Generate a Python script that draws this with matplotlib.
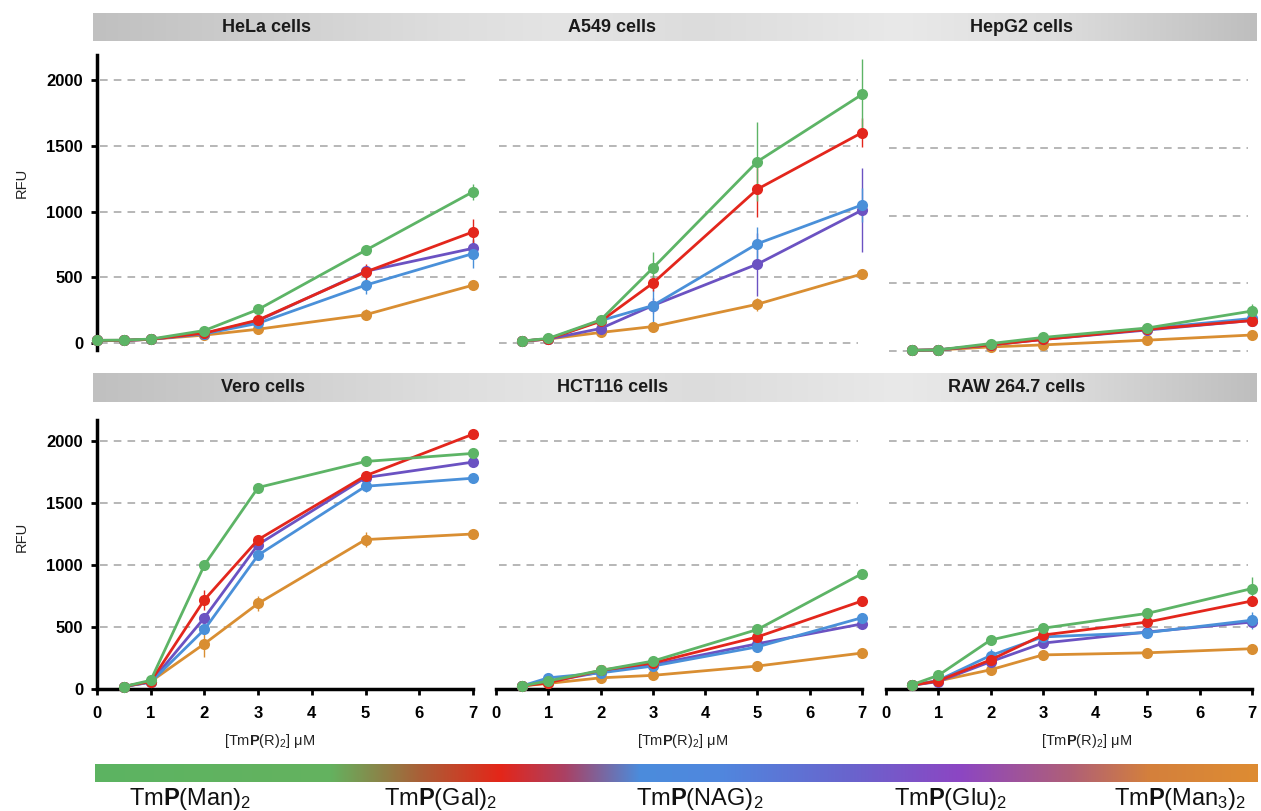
import numpy as np
import matplotlib
matplotlib.use("Agg")
import matplotlib.pyplot as plt

plt.rcParams['font.family'] = ['Liberation Sans', 'DejaVu Sans']
plt.rcParams['mathtext.fontset'] = 'custom'
plt.rcParams['mathtext.rm'] = 'Liberation Sans'
plt.rcParams['mathtext.bf'] = 'Liberation Sans:bold'
plt.rcParams['mathtext.it'] = 'Liberation Sans:italic'

# ---------------- data ----------------
SERIES = ['Man', 'Gal', 'NAG', 'Glu', 'Man3']
LEGEND_LABELS = [r'Tm$\mathbf{P}$(Man)$_2$', r'Tm$\mathbf{P}$(Gal)$_2$', r'Tm$\mathbf{P}$(NAG)$_2$',
                 r'Tm$\mathbf{P}$(Glu)$_2$', r'Tm$\mathbf{P}$(Man$_3$)$_2$']
COLORS = {'Man': '#5DB466', 'Gal': '#E3261C', 'NAG': '#4A90D9', 'Glu': '#6B52C2', 'Man3': '#D98E32'}
PANELS = ['HeLa cells', 'A549 cells', 'HepG2 cells', 'Vero cells', 'HCT116 cells', 'RAW 264.7 cells']

hela_x = [0, 0.5, 1, 2, 3, 5, 7]
hela_y = {'Man': [20, 22, 30, 95, 255, 705, 1150], 'Gal': [20, 20, 28, 75, 175, 540, 845],
          'NAG': [20, 20, 28, 70, 150, 440, 680], 'Glu': [20, 20, 28, 72, 170, 545, 720],
          'Man3': [20, 20, 28, 60, 105, 215, 440]}
hela_e = {'Man': [0, 0, 0, 10, 20, 15, 60], 'Gal': [0, 0, 0, 10, 20, 60, 100],
          'NAG': [0, 0, 0, 10, 15, 70, 110], 'Glu': [0, 0, 0, 10, 20, 50, 60],
          'Man3': [0, 0, 0, 5, 10, 40, 30]}

a549_x = [0.5, 1, 2, 3, 5, 7]
a549_y = {'Man': [15, 35, 175, 570, 1380, 1890], 'Gal': [15, 30, 165, 455, 1170, 1600],
          'NAG': [15, 30, 170, 285, 755, 1050], 'Glu': [15, 30, 110, 285, 600, 1010],
          'Man3': [15, 30, 80, 125, 295, 525]}
a549_e = {'Man': [0, 0, 20, 120, 300, 270], 'Gal': [0, 0, 20, 60, 215, 110],
          'NAG': [0, 0, 20, 140, 130, 130], 'Glu': [0, 0, 15, 60, 240, 320],
          'Man3': [0, 0, 10, 20, 50, 40]}

hepg2_x = [0.5, 1, 2, 3, 5, 7]
hepg2_y = {'Man': [5, 8, 55, 100, 170, 295], 'Gal': [5, 8, 45, 85, 160, 225],
           'NAG': [5, 8, 45, 90, 165, 240], 'Glu': [5, 8, 45, 85, 155, 225],
           'Man3': [5, 8, 30, 45, 80, 118]}
hepg2_e = {'Man': [0, 0, 10, 10, 15, 50], 'Gal': [0, 0, 5, 10, 15, 20],
           'NAG': [0, 0, 5, 10, 15, 20], 'Glu': [0, 0, 5, 10, 15, 20],
           'Man3': [0, 0, 5, 5, 10, 15]}

vero_x = [0.5, 1, 2, 3, 5, 7]
vero_y = {'Man': [20, 70, 1000, 1625, 1835, 1900], 'Gal': [20, 60, 720, 1205, 1720, 2055],
          'NAG': [20, 55, 480, 1080, 1635, 1700], 'Glu': [20, 55, 575, 1165, 1705, 1830],
          'Man3': [20, 60, 365, 690, 1205, 1250]}
vero_e = {'Man': [0, 10, 40, 40, 30, 40], 'Gal': [0, 10, 80, 30, 40, 20],
          'NAG': [0, 10, 40, 30, 50, 20], 'Glu': [0, 10, 40, 30, 30, 20],
          'Man3': [0, 10, 110, 60, 60, 20]}

hct_x = [0.5, 1, 2, 3, 5, 7]
hct_y = {'Man': [25, 65, 150, 225, 480, 930], 'Gal': [25, 50, 150, 210, 420, 710],
         'NAG': [25, 90, 130, 185, 340, 575], 'Glu': [25, 60, 135, 195, 365, 525],
         'Man3': [25, 45, 90, 110, 185, 290]}
hct_e = {'Man': [0, 10, 10, 15, 15, 20], 'Gal': [0, 10, 10, 15, 15, 20],
         'NAG': [0, 10, 10, 15, 20, 30], 'Glu': [0, 10, 10, 15, 20, 20],
         'Man3': [0, 5, 10, 10, 15, 15]}

raw_x = [0.5, 1, 2, 3, 5, 7]
raw_y = {'Man': [35, 110, 395, 490, 610, 810], 'Gal': [30, 65, 235, 435, 540, 710],
         'NAG': [30, 70, 270, 420, 455, 555], 'Glu': [30, 60, 220, 370, 460, 540],
         'Man3': [35, 65, 155, 275, 292, 325]}
raw_e = {'Man': [0, 10, 20, 20, 20, 90], 'Gal': [0, 5, 20, 20, 20, 30],
         'NAG': [0, 5, 50, 30, 30, 70], 'Glu': [0, 5, 20, 20, 20, 30],
         'Man3': [0, 5, 20, 20, 15, 20]}

PANEL_DATA = [(hela_x, hela_y, hela_e), (a549_x, a549_y, a549_e), (hepg2_x, hepg2_y, hepg2_e),
              (vero_x, vero_y, vero_e), (hct_x, hct_y, hct_e), (raw_x, raw_y, raw_e)]

YTICKS = [0, 500, 1000, 1500, 2000]
XTICKS = [0, 1, 2, 3, 4, 5, 6, 7]

# ---------------- layout (pixels) ----------------
W, H = 1261, 811
fig = plt.figure(figsize=(W / 100, H / 100), dpi=100)
fig.patch.set_facecolor('white')


def rect(l, t, r, b):
    return [l / W, 1 - b / H, (r - l) / W, (b - t) / H]


cols = [(97, 473), (496, 862), (886, 1252)]
# (top px, bottom px, y0 px, y2000 px)
rows = [[(55, 350, 343, 80), (55, 350, 343, 80), (55, 356, 351, 80)],
        [(420, 689, 689, 441), (420, 689, 689, 441), (420, 689, 689, 441)]]

draw_order = ['Man3', 'Glu', 'NAG', 'Gal', 'Man']
grid_col = '#a3a3a3'

for idx, name in enumerate(PANELS):
    r, c = divmod(idx, 3)
    x0p, x7p = cols[c]
    top, bot, y0p, y2p = rows[r][c]
    ux = (x7p - x0p) / 7.0
    sy = (y0p - y2p) / 2000.0
    ax = fig.add_axes(rect(x0p, top, x7p + 4, bot))
    ax.set_xlim(0, 7 + 4 / ux)
    ax.set_ylim(-(bot - y0p) / sy, 2000 + (y2p - top) / sy)
    ax.patch.set_alpha(0)

    glines = YTICKS if r == 0 else YTICKS[1:]
    ax.hlines(glines, 0.05, 6.93, colors=grid_col, linestyles=(0, (5, 4)), linewidth=1.1, zorder=1)

    xs, ys, es = PANEL_DATA[idx]
    for s in draw_order:
        ax.errorbar(xs, ys[s], yerr=es[s], color=COLORS[s], lw=2.0, marker='o', ms=8,
                    mec=COLORS[s], mew=0, elinewidth=1.0, capsize=4, capthick=1.0, zorder=3,
                    clip_on=False)

    for sp in ['top', 'right']:
        ax.spines[sp].set_visible(False)
    ax.spines['left'].set_visible(c == 0)
    ax.spines['bottom'].set_visible(r == 1)
    ax.spines['left'].set_linewidth(2.5)
    ax.spines['bottom'].set_linewidth(2.5)
    ax.spines['left'].set_bounds(ax.get_ylim()[0], ax.get_ylim()[1])
    ax.spines['bottom'].set_bounds(0, 7)

    if c == 0:
        ax.set_yticks(YTICKS)
        ax.set_yticklabels([str(v) for v in YTICKS], fontsize=12, fontweight='bold')
        ax.tick_params(axis='y', length=4, width=2, pad=6)
    else:
        ax.set_yticks([])
    if r == 1:
        ax.set_xticks(XTICKS)
        ax.set_xticklabels([str(v) for v in XTICKS], fontsize=12, fontweight='bold')
        ax.tick_params(axis='x', length=4, width=2, pad=8)
    else:
        ax.set_xticks([])

# ---------------- title bars ----------------
gray_stops = [(93, 192), (250, 205), (450, 222), (560, 228), (700, 220), (900, 233), (1050, 222), (1257, 190)]


def gradient_bar(t, b, l, rgt, stops_rgb):
    bar = fig.add_axes(rect(l, t, rgt, b))
    xs_px = np.arange(l, rgt + 1)
    pos = [p for p, _ in stops_rgb]
    img = np.zeros((1, len(xs_px), 3))
    for k in range(3):
        img[0, :, k] = np.interp(xs_px, pos, [v[k] for _, v in stops_rgb]) / 255.0
    bar.imshow(img, aspect='auto', extent=[0, 1, 0, 1], interpolation='bilinear')
    bar.set_axis_off()
    return bar


gstops = [(p, (v, v, v)) for p, v in gray_stops]
gradient_bar(13, 41, 93, 1257, gstops)
gradient_bar(373, 402, 93, 1257, gstops)

title_pos = [(267, 27), (612, 27), (1022, 27), (263, 387), (613, 387), (1017, 387)]
for name, (tx, ty) in zip(PANELS, title_pos):
    fig.text(tx / W, 1 - ty / H, name, ha='center', va='center', fontsize=13, fontweight='bold',
             color='#1a1a1a')

# axis labels
for ty in (183, 537):
    fig.text(22 / W, 1 - ty / H, 'RFU', rotation=90, ha='center', va='center', fontsize=10.5,
             color='#222222')
for tx in (270, 683, 1087):
    fig.text(tx / W, 1 - 741 / H, r'[Tm$\mathbf{P}$(R)$_2$] μM', ha='center', va='center',
             fontsize=10.5, color='#222222')

# ---------------- legend gradient bar ----------------
leg_stops = [(95, (92, 180, 98)), (330, (100, 178, 95)), (420, (170, 95, 55)), (500, (228, 38, 25)),
             (565, (170, 65, 100)), (640, (75, 140, 220)), (720, (80, 135, 222)),
             (850, (105, 100, 205)), (960, (140, 70, 195)), (1070, (175, 95, 120)),
             (1150, (212, 128, 60)), (1258, (222, 140, 50))]
gradient_bar(764, 782, 95, 1258, leg_stops)

leg_x = [190, 440, 700, 950, 1180]
for lab, lx in zip(LEGEND_LABELS, leg_x):
    fig.text(lx / W, 1 - 799 / H, lab, ha='center', va='center', fontsize=17, color='#111111')

fig.savefig('out.png', dpi=100, facecolor='white')
